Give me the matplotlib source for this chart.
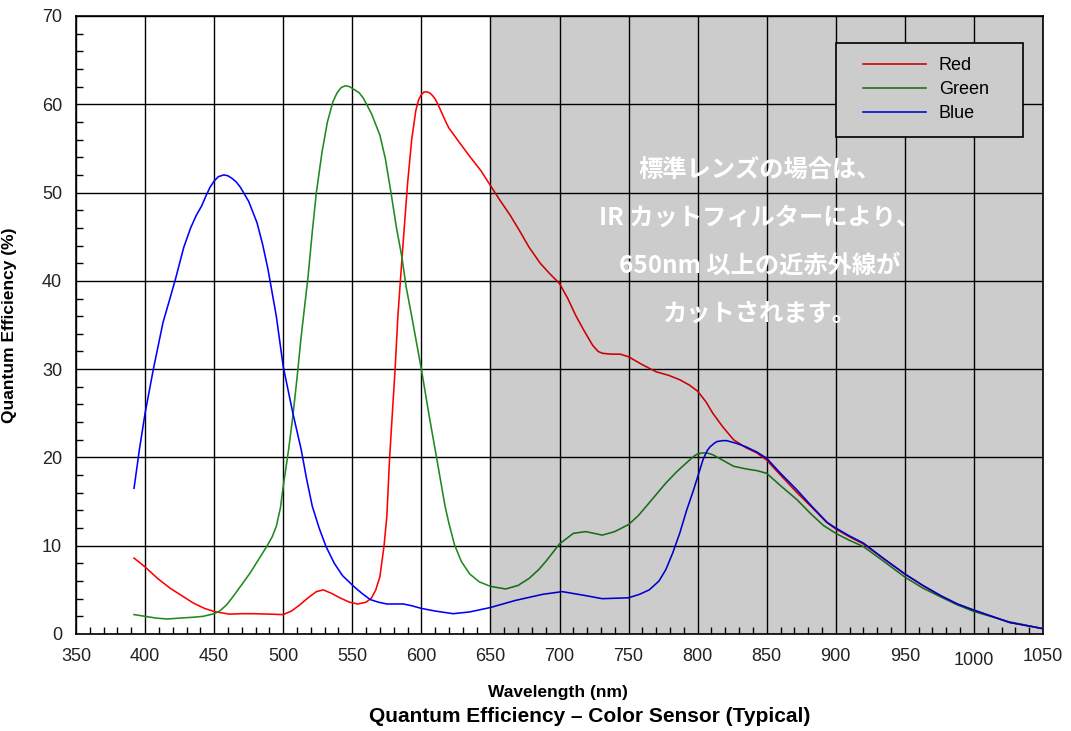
import matplotlib
matplotlib.use('Agg')
import matplotlib.pyplot as plt
from matplotlib.ticker import MultipleLocator
from matplotlib.patches import Rectangle

# values (wavelength nm, QE %)
wl_red = [392, 400, 409, 418, 427, 435, 443, 450, 461, 470, 478, 490, 500, 506, 512, 518,
          524, 529, 535, 541, 548, 554, 560, 564, 567, 570, 573, 575, 577, 579, 581, 583,
          586, 590, 593, 596, 598, 600, 602, 604, 606, 608, 610, 612, 614, 616, 618, 620,
          626, 635, 643, 650, 657, 664,
          671, 678, 686, 693, 700, 706, 712, 718, 724, 728, 731, 737, 744, 750, 760, 770, 779,
          787, 794, 800, 806, 811, 818, 826, 835, 843, 850, 860, 872, 883, 893, 900, 910,
          920, 935, 950, 963, 976, 988, 1000, 1013, 1026, 1040, 1050]
qe_red = [8.6, 7.6, 6.3, 5.2, 4.3, 3.5, 2.9, 2.55, 2.25, 2.3, 2.3, 2.25, 2.2, 2.6, 3.3, 4.1,
          4.8, 5.0, 4.6, 4.1, 3.6, 3.4, 3.6, 4.1, 5.0, 6.5, 10.0, 13.3, 19.9, 25.0, 30.0, 36.0,
          42.6, 51.0, 56.0, 59.3, 60.5, 61.1, 61.4, 61.4, 61.3, 61.0, 60.6, 60.0, 59.3, 58.6, 57.9, 57.3,
          56.0, 54.1, 52.5, 50.8, 49.1, 47.5,
          45.7, 43.8, 42.0, 40.8, 39.7, 38.0, 36.0, 34.3, 32.7, 32.0, 31.8, 31.7, 31.7, 31.4, 30.5, 29.7, 29.3,
          28.8, 28.2, 27.5, 26.3, 25.0, 23.5, 22.0, 21.1, 20.5, 19.7, 18.0, 16.0, 14.3, 12.7, 11.9, 11.0,
          10.2, 8.5, 6.8, 5.5, 4.3, 3.4, 2.7, 2.0, 1.3, 0.9, 0.6]

wl_green = [392, 400, 408, 416, 425, 435, 442, 450, 454, 459, 464, 470, 476, 482, 488, 492,
            495, 498, 500, 504, 507, 510, 513, 518, 521, 524, 528, 532, 536, 539, 542, 545, 548, 551,
            555, 558, 564, 570, 574, 578, 582, 586, 589, 593, 600, 606, 611, 617, 620, 624, 629,
            635, 642, 650, 661, 670, 678, 685, 690, 700, 710, 719, 731, 740, 750, 757, 763,
            770, 777, 785, 792, 797, 800, 803, 807, 811, 818, 826, 835, 843, 850, 860, 872, 882, 891,
            900, 910, 920, 935, 950, 963, 976, 988, 1000, 1025, 1050]
qe_green = [2.2, 2.0, 1.8, 1.7, 1.8, 1.9, 2.0, 2.3, 2.6, 3.3, 4.3, 5.6, 6.9, 8.4, 9.9, 11.0,
            12.2, 14.3, 16.7, 21.0, 24.7, 29.0, 33.7, 40.5, 45.5, 50.0, 54.5, 58.0, 60.3, 61.3, 61.9, 62.1, 62.0, 61.7,
            61.3, 60.7, 58.9, 56.5, 53.8, 50.0, 46.0, 42.6, 39.3, 36.0, 30.0, 24.4, 20.0, 14.6, 12.5, 10.1, 8.2,
            6.8, 5.9, 5.4, 5.1, 5.5, 6.3, 7.3, 8.2, 10.2, 11.4, 11.6, 11.2, 11.6, 12.4, 13.4, 14.5,
            15.8, 17.1, 18.4, 19.4, 20.1, 20.4, 20.5, 20.5, 20.3, 19.7, 19.0, 18.7, 18.5, 18.2, 16.8, 15.2, 13.6, 12.3,
            11.4, 10.6, 9.9, 8.2, 6.45, 5.2, 4.2, 3.3, 2.55, 1.4, 0.6]

wl_blue = [392, 396, 400, 406, 413, 418, 422, 428, 433, 437, 441, 444, 447, 450, 453, 457, 460, 463,
           466, 469, 475, 481, 485, 489, 495, 500, 507, 513, 517, 521, 526, 531, 537, 543, 551, 557, 563, 569,
           575, 587, 593, 600, 610, 623, 635, 650, 668, 688, 702, 717, 731, 750, 758, 765,
           772, 777, 782, 787, 792, 797, 801, 804, 807, 809, 812, 814, 818, 821, 828, 835, 843, 850, 860, 872,
           883, 894, 900, 910, 920, 935, 950, 963, 976, 988, 1000, 1013, 1026, 1040, 1050]
qe_blue = [16.5, 21.0, 25.0, 30.0, 35.3, 38.0, 40.2, 43.8, 46.0, 47.4, 48.5, 49.6, 50.6, 51.3, 51.8, 52.0, 51.9, 51.6,
           51.2, 50.6, 49.0, 46.6, 44.2, 41.3, 36.0, 30.3, 25.0, 20.9, 17.5, 14.5, 12.0, 9.9, 8.0, 6.6, 5.4, 4.6, 3.9, 3.6,
           3.4, 3.4, 3.2, 2.9, 2.6, 2.3, 2.5, 3.0, 3.8, 4.5, 4.8, 4.4, 4.0, 4.1, 4.5, 5.0,
           6.0, 7.3, 9.2, 11.4, 14.0, 16.3, 18.3, 19.8, 20.8, 21.2, 21.6, 21.8, 21.9, 21.9, 21.6, 21.2, 20.6, 19.9, 18.2, 16.3,
           14.4, 12.6, 12.0, 11.1, 10.3, 8.5, 6.8, 5.5, 4.35, 3.4, 2.7, 2.0, 1.3, 0.9, 0.6]

x_ticks = list(range(350, 1051, 50))
cut_start, cut_end = 650, 1050

note_lines = ['標準レンズの場合は、',
              'IR カットフィルターにより、',
              '650nm 以上の近赤外線が',
              'カットされます。']


def main():
    plt.rcParams['font.family'] = ['Liberation Sans', 'DejaVu Sans']
    plt.rcParams['font.size'] = 13

    fig = plt.figure(figsize=(10.71, 7.31), dpi=100)
    ax = fig.add_axes([76/1071, 1-634/731, (1043-76)/1071, (634-16)/731])

    # curves
    ax.plot(wl_red, qe_red, color='#ff0000', lw=1.15, label='Red', zorder=3)
    ax.plot(wl_green, qe_green, color='#1f8a1f', lw=1.15, label='Green', zorder=3)
    ax.plot(wl_blue, qe_blue, color='#0000ff', lw=1.15, label='Blue', zorder=3)

    # axes / grid
    ax.set_xlim(350, 1050)
    ax.set_ylim(0, 70)
    ax.set_xticks(x_ticks)
    ax.set_xticklabels([str(t) for t in x_ticks])
    ax.yaxis.set_major_locator(MultipleLocator(10))
    ax.xaxis.set_minor_locator(MultipleLocator(10))
    ax.yaxis.set_minor_locator(MultipleLocator(2))
    ax.grid(which='major', color='black', lw=1.0)
    ax.tick_params(which='major', length=0, pad=10, labelcolor='#222222', labelsize=13)
    ax.tick_params(which='minor', direction='in', length=5, width=1.0, color='black')
    for s in ax.spines.values():
        s.set_color('black')
        s.set_linewidth(1.2)
    # the 1000 label sits a little lower on the original
    ax.xaxis.get_major_ticks()[13].label1.set_y(-0.007)

    # legend box
    ax.add_patch(Rectangle((0.786, 0.804), 0.193, 0.152, transform=ax.transAxes,
                           facecolor='white', edgecolor='black', lw=1.2, zorder=4.9))
    ax.legend(loc='upper left', bbox_to_anchor=(0.814, 0.933), frameon=False,
              borderpad=0, borderaxespad=0, handlelength=3.5, handletextpad=0.7,
              labelspacing=0.38, fontsize=13)

    # IR cut shading over everything
    ax.axvspan(cut_start, cut_end, color='black', alpha=0.2, lw=0, zorder=6)

    # note
    for i, line in enumerate(note_lines):
        ax.text(845, 52.6 - i*5.45, line, ha='center', va='center', color='white',
                fontsize=17.5, fontweight='bold', zorder=7,
                family=['Noto Sans CJK JP', 'DejaVu Sans'])

    # labels
    ax.set_ylabel('Quantum Efficiency (%)', fontsize=12.5, fontweight='bold')
    ax.yaxis.set_label_coords(-0.061, 0.5)
    fig.text(558/1071, 1-692/731, 'Wavelength (nm)', ha='center', va='center',
             fontsize=12.5, fontweight='bold')
    fig.text(590/1071, 1-716/731, 'Quantum Efficiency \u2013 Color Sensor (Typical)',
             ha='center', va='center', fontsize=15, fontweight='bold')

    fig.savefig('out.png', dpi=100)


if __name__ == '__main__':
    main()
